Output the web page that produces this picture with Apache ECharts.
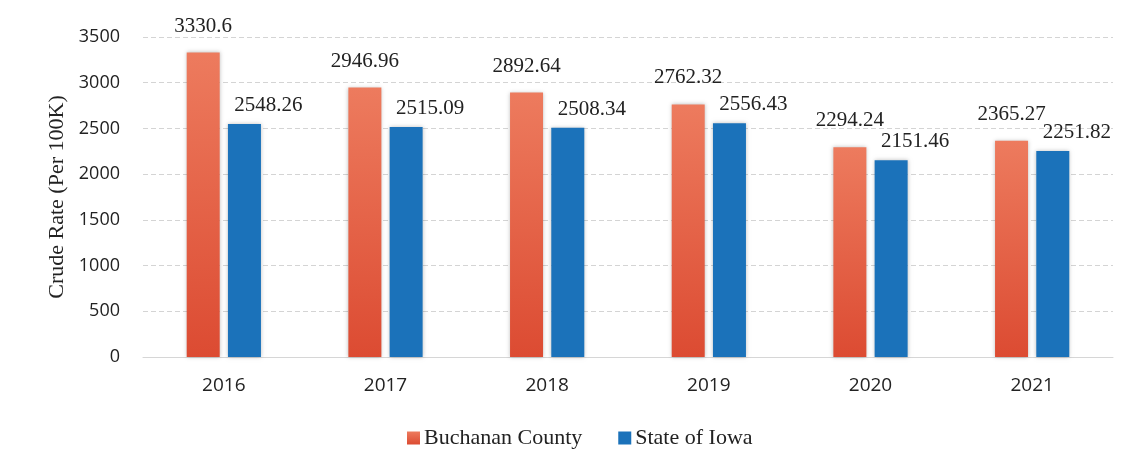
<!DOCTYPE html>
<html><head><meta charset="utf-8">
<script src="https://cdn.jsdelivr.net/npm/echarts@6/dist/echarts.min.js"></script>
<style>html,body{margin:0;padding:0;background:#fff}#c{width:1130px;height:471px}</style>
</head><body><div id="c"></div>
<script>
const years = ['2016','2017','2018','2019','2020','2021'];
const buchanan = [3330.6, 2946.96, 2892.64, 2762.32, 2294.24, 2365.27];
const iowa = [2548.26, 2515.09, 2508.34, 2556.43, 2151.46, 2251.82];
const yTicks = [0, 500, 1000, 1500, 2000, 2500, 3000, 3500];

const serif = '"Liberation Serif", "DejaVu Serif", serif';
const sans = '"Open Sans", "Noto Sans", sans-serif';
const chart = echarts.init(document.getElementById('c'));
chart.setOption({
  animation: false,
  backgroundColor: '#fff',
  grid: {left: 143, right: 17, top: 37, bottom: 114},
  legend: {
    bottom: 17, left: 402, itemWidth: 13, itemHeight: 13, itemGap: 36,
    icon: 'rect',
    textStyle: {fontFamily: serif, fontSize: 22, color: '#222', padding: [0,0,0,-1]},
    data: ['Buchanan County', 'State of Iowa']
  },
  xAxis: {
    type: 'category', data: years,
    axisLine: {show: true, lineStyle: {color: '#d6d6d6'}},
    axisTick: {show: false},
    axisLabel: {fontFamily: sans, fontSize: 19, color: '#222', margin: 19}
  },
  yAxis: {
    type: 'value', min: yTicks[0], max: yTicks[yTicks.length-1], interval: 500,
    name: 'Crude Rate (Per 100K)', nameLocation: 'middle', nameGap: 74,
    nameTextStyle: {fontFamily: serif, fontSize: 22, color: '#222'},
    axisLine: {show: false}, axisTick: {show: false},
    axisLabel: {fontFamily: sans, fontSize: 18, color: '#222', margin: 23, formatter: v => String(v)},
    splitLine: {lineStyle: {color: '#d4d4d4', type: [5, 3]}}
  },
  series: [
    {
      name: 'Buchanan County', type: 'bar', data: buchanan,
      barWidth: 33, barGap: '25%',
      itemStyle: {
        color: new echarts.graphic.LinearGradient(0,0,0,1,[{offset:0,color:'#ed7b5e'},{offset:1,color:'#dc4b32'}]),
        shadowColor: 'rgba(0,0,0,0.25)', shadowBlur: 4
      },
      label: {show: true, position: 'top', distance: 16, fontFamily: serif, fontSize: 21, color: '#222'}
    },
    {
      name: 'State of Iowa', type: 'bar', data: iowa,
      barWidth: 33,
      itemStyle: {color: '#1b72ba', shadowColor: 'rgba(0,0,0,0.25)', shadowBlur: 4},
      label: {show: true, position: 'top', distance: 8, offset: [24, 0], fontFamily: serif, fontSize: 21, color: '#222'}
    }
  ]
});
</script></body></html>
